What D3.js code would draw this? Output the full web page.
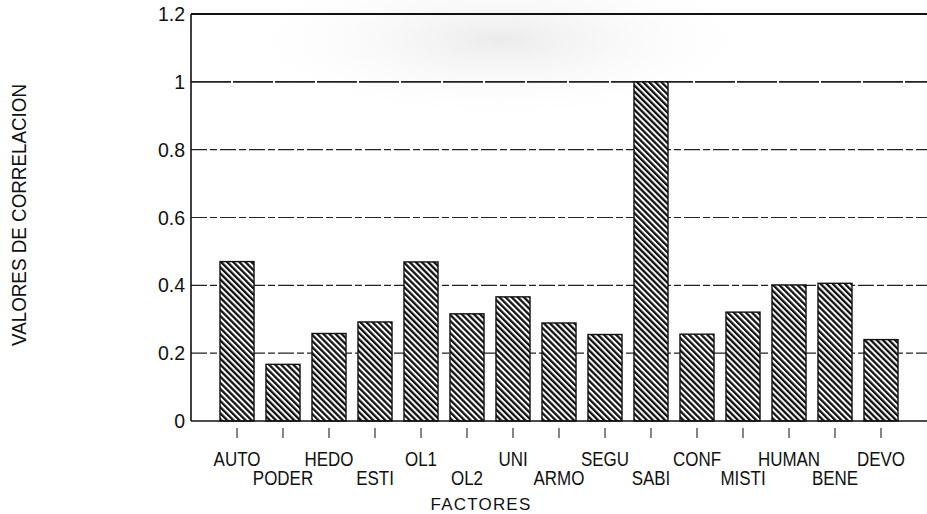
<!DOCTYPE html>
<html>
<head>
<meta charset="utf-8">
<script src="https://cdn.jsdelivr.net/npm/d3@7"></script>
<style>
  html, body { margin: 0; padding: 0; background: #fff; }
  svg { display: block; }
  text { font-family: "Liberation Sans", Arial, sans-serif; fill: #111; }
</style>
</head>
<body>
<svg id="chart" width="927" height="514"></svg>
<script>
const categories = ["AUTO","PODER","HEDO","ESTI","OL1","OL2","UNI","ARMO","SEGU","SABI","CONF","MISTI","HUMAN","BENE","DEVO"];
const values = [0.47, 0.167, 0.258, 0.292, 0.469, 0.316, 0.366, 0.289, 0.255, 1.0, 0.256, 0.321, 0.401, 0.406, 0.24];
const yTicks = [0, 0.2, 0.4, 0.6, 0.8, 1, 1.2];
const yTickLabels = ["0", "0.2", "0.4", "0.6", "0.8", "1", "1.2"];
const xTitle = "FACTORES";
const yTitle = "VALORES DE CORRELACION";

const svg = d3.select("#chart");
const mLeft = 191, mRight = 927, mTop = 14, mBottom = 421;

// faint scan speckle tone at the top
const defs = svg.append("defs");
const rg = defs.append("radialGradient").attr("id", "tone").attr("cx", "50%").attr("cy", "50%").attr("r", "50%");
rg.append("stop").attr("offset", "0%").attr("stop-color", "#ebebeb");
rg.append("stop").attr("offset", "100%").attr("stop-color", "#ffffff").attr("stop-opacity", 0);
svg.append("ellipse").attr("cx", 500).attr("cy", 40).attr("rx", 280).attr("ry", 85).attr("fill", "url(#tone)");

const pat = defs.append("pattern").attr("id", "hatch").attr("patternUnits", "userSpaceOnUse")
  .attr("width", 4.3).attr("height", 10).attr("patternTransform", "rotate(-45)");
pat.append("rect").attr("width", 4.3).attr("height", 10).attr("fill", "#fff");
pat.append("rect").attr("width", 2.3).attr("height", 10).attr("fill", "#111");

const x = d3.scaleBand().domain(categories).range([mLeft, mRight]).paddingInner(0.26).paddingOuter(0.63);
const y = d3.scaleLinear().domain([0, 1.2]).range([mBottom, mTop]);

// gridlines
svg.append("g").selectAll("line").data(yTicks.filter(t => t > 0 && t < 1.2)).join("line")
  .attr("x1", mLeft).attr("x2", mRight)
  .attr("y1", d => y(d)).attr("y2", d => y(d))
  .attr("stroke", "#222")
  .attr("stroke-width", d => d === 1 ? 1.8 : 1.1)
  .attr("stroke-dasharray", d => d === 1 ? "40,2" : "16,3,7,3");

// top border
svg.append("line").attr("x1", mLeft).attr("x2", mRight).attr("y1", y(1.2)).attr("y2", y(1.2))
  .attr("stroke", "#111").attr("stroke-width", 2);

// bars
svg.append("g").selectAll("rect").data(values).join("rect")
  .attr("x", (d, i) => x(categories[i]))
  .attr("width", x.bandwidth())
  .attr("y", d => y(d))
  .attr("height", d => y(0) - y(d))
  .attr("fill", "url(#hatch)")
  .attr("stroke", "#111").attr("stroke-width", 1.4);

// axes lines
svg.append("line").attr("x1", mLeft).attr("x2", mLeft).attr("y1", mTop).attr("y2", mBottom)
  .attr("stroke", "#111").attr("stroke-width", 1.6);
svg.append("line").attr("x1", mLeft).attr("x2", mRight).attr("y1", mBottom).attr("y2", mBottom)
  .attr("stroke", "#111").attr("stroke-width", 1.6);

// y tick labels
svg.append("g").selectAll("text").data(yTicks).join("text")
  .attr("x", mLeft - 6).attr("y", d => y(d))
  .attr("dy", "0.36em")
  .attr("text-anchor", "end")
  .attr("font-size", 19.5)
  .text((d, i) => yTickLabels[i]);

// x ticks below axis
svg.append("g").selectAll("line").data(categories).join("line")
  .attr("x1", d => x(d) + x.bandwidth() / 2).attr("x2", d => x(d) + x.bandwidth() / 2)
  .attr("y1", 428).attr("y2", 438)
  .attr("stroke", "#333").attr("stroke-width", 1.2);

// x labels (staggered, slightly condensed)
svg.append("g").selectAll("text").data(categories).join("text")
  .attr("transform", (d, i) => `translate(${x(d) + x.bandwidth() / 2},${i % 2 === 0 ? 466 : 485}) scale(0.87,1)`)
  .attr("text-anchor", "middle")
  .attr("font-size", 19.5)
  .text(d => d);

// titles
svg.append("text").attr("x", 481).attr("y", 510).attr("text-anchor", "middle")
  .attr("font-size", 17).attr("letter-spacing", 1.2).text(xTitle);
svg.append("text").attr("transform", "translate(26,215) rotate(-90)")
  .attr("text-anchor", "middle").attr("font-size", 21)
  .attr("textLength", 262).attr("lengthAdjust", "spacingAndGlyphs").text(yTitle);
</script>
</body>
</html>
